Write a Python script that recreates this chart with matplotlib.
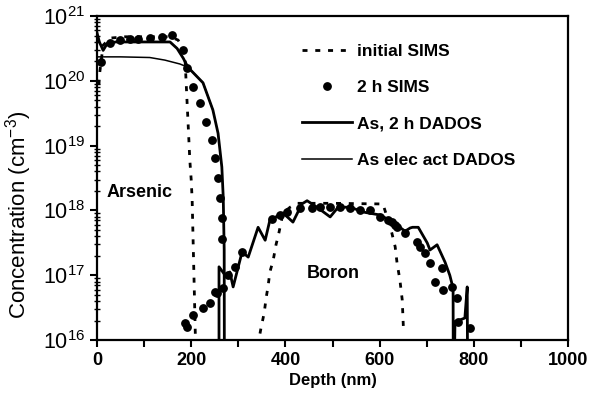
import numpy as np
import matplotlib
matplotlib.use('Agg')
import matplotlib.pyplot as plt
from matplotlib.ticker import MultipleLocator, LogLocator, FixedLocator

plt.rcParams['font.family'] = ['Liberation Sans', 'DejaVu Sans']
plt.rcParams['mathtext.default'] = 'regular'

# initial SIMS (dashed), arsenic and boron
as_init_x = [4, 6, 13, 28, 60, 100, 155, 172, 183, 187, 189, 191, 193, 195, 197,
             200, 202, 203, 204, 205, 206, 207, 208, 209]
as_init_logc = [19.94, 20.14, 20.55, 20.66, 20.68, 20.68, 20.68, 20.63, 20.5, 20.32,
                20.01, 19.7, 19.4, 19.09, 18.78, 18.47, 18.16, 17.85, 17.54, 17.23,
                16.93, 16.62, 16.31, 16.0]
b_init_x = [346, 348, 355, 359, 363, 367, 374, 380, 386, 395, 410, 425, 500, 607,
            618, 626, 633, 637, 643, 648, 651]
b_init_logc = [16.1, 16.18, 16.42, 16.65, 16.82, 17.05, 17.23, 17.47, 17.65, 17.96,
               18.05, 18.11, 18.11, 18.10, 17.85, 17.65, 17.44, 17.19, 16.93, 16.62, 16.1]

# 2 h SIMS (dots)
sims_x = [8, 28, 49, 70, 87, 113, 138, 159, 183, 191, 204, 219, 231, 244, 251, 257,
          261, 265, 265,
          187, 191, 204, 225, 240, 251, 255, 268, 278, 293, 308, 371, 389, 403, 431,
          456, 473, 495, 516, 537, 558, 580, 601, 618, 633, 626, 637, 654, 679, 686,
          696, 707, 732, 718, 735, 754, 764, 766, 792]
sims_logc = [20.29, 20.58, 20.63, 20.65, 20.65, 20.66, 20.68, 20.71, 20.48, 20.20,
             19.90, 19.66, 19.36, 19.09, 18.81, 18.50, 18.19, 17.88, 17.56,
             16.26, 16.2, 16.39, 16.49, 16.57, 16.74, 16.72, 16.80, 17.0, 17.13, 17.36,
             17.87, 17.93, 17.98, 18.04, 18.04, 18.05, 18.05, 18.05, 18.04, 18.0, 18.0,
             17.9, 17.85, 17.77, 17.82, 17.74, 17.65, 17.51, 17.44, 17.34, 17.19, 17.11,
             16.89, 16.77, 16.82, 16.65, 16.28, 16.19]

# DADOS simulation: total As, electrically active As, boron
as_x = [0, 5, 13, 22, 40, 100, 155, 170, 183, 193, 225, 246, 257, 265, 268, 270, 270.5]
as_logc = [20.74, 20.6, 20.47, 20.58, 20.6, 20.6, 20.6, 20.5, 20.35, 20.21, 19.97,
           19.55, 19.19, 18.67, 18.2, 17.39, 15.0]
act_x = [0, 50, 112, 144, 176, 193, 225, 246]
act_logc = [20.37, 20.37, 20.36, 20.32, 20.26, 20.21, 19.97, 19.55]
b_x = [259, 259, 272, 282, 289, 308, 321, 342, 357, 367, 395, 416, 435, 446, 467,
       495, 512, 537, 569, 601, 628, 654, 665, 670, 682, 701, 707, 722, 739, 749,
       756, 756.5, 757.5, 760, 781, 786, 787]
b_logc = [15.0, 17.13, 17.0, 17.05, 16.82, 17.36, 17.28, 17.74, 17.54, 17.85, 17.96,
          17.82, 18.1, 18.15, 18.05, 17.9, 18.05, 18.05, 17.97, 17.93, 17.82, 17.68,
          17.73, 17.74, 17.74, 17.50, 17.39, 17.47, 17.20, 17.0, 16.80, 15.0, 15.0,
          16.28, 16.34, 16.82, 15.0]

ytick_exp = [16, 17, 18, 19, 20, 21]

fig = plt.figure(figsize=(6, 4.01), dpi=100)
ax = fig.add_axes([0.1617, 0.152, 0.785, 0.808])

dash = (0, (1.8, 2.8))
ax.plot(as_init_x, 10 ** np.array(as_init_logc), color='black', lw=2.0,
        linestyle=dash, label='initial SIMS')
ax.plot(b_init_x, 10 ** np.array(b_init_logc), color='black', lw=2.0,
        linestyle=dash, label='_nolegend_')
ax.plot(sims_x, 10 ** np.array(sims_logc), 'o', color='black', ms=5.3,
        label='2 h SIMS')
ax.plot(as_x, 10 ** np.array(as_logc), color='black', lw=2.0,
        label='As, 2 h DADOS')
ax.plot(act_x, 10 ** np.array(act_logc), color='black', lw=1.1,
        label='As elec act DADOS')
ax.plot(b_x, 10 ** np.array(b_logc), color='black', lw=2.0, label='_nolegend_')

ax.set_yscale('log')
ax.set_xlim(0, 1000)
ax.set_ylim(1e16, 1e21)

ax.xaxis.set_major_locator(MultipleLocator(200))
ax.xaxis.set_minor_locator(MultipleLocator(100))
ax.yaxis.set_major_locator(FixedLocator([10.0 ** e for e in ytick_exp]))
ax.yaxis.set_minor_locator(LogLocator(base=10, subs=np.arange(2, 10)))
ax.set_yticklabels(['$10^{%d}$' % e for e in ytick_exp], fontsize=15.5)
for lbl in ax.get_xticklabels():
    lbl.set_fontweight('bold')
    lbl.set_fontsize(13)

ax.tick_params(which='major', direction='out', length=5, width=1.5)
ax.tick_params(axis='x', which='minor', direction='out', length=5, width=1.5)
ax.tick_params(axis='y', which='minor', direction='inout', length=4, width=1)
for s in ax.spines.values():
    s.set_linewidth(1.6)

ax.set_xlabel('Depth (nm)', fontsize=12, fontweight='bold', labelpad=3)
ax.set_ylabel('Concentration (cm$^{-3}$)', fontsize=16)
ax.yaxis.set_label_coords(-0.133, 0.385)

ax.text(91, 1.86e18, 'Arsenic', fontsize=13, fontweight='bold',
        ha='center', va='center')
ax.text(501, 1.07e17, 'Boron', fontsize=13, fontweight='bold',
        ha='center', va='center')

ax.legend(loc='upper left', bbox_to_anchor=(0.435, 0.915), frameon=False,
          borderpad=0, borderaxespad=0, handlelength=2.9, handletextpad=0.3,
          labelspacing=1.22, numpoints=1, prop={'weight': 'bold', 'size': 12.5})

fig.savefig('out.png', dpi=100)
